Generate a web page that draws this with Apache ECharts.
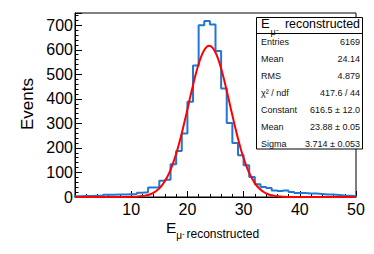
<!DOCTYPE html>
<html>
<head>
<meta charset="utf-8">
<script src="https://cdn.jsdelivr.net/npm/echarts@6/dist/echarts.min.js"></script>
<style>
html,body{margin:0;padding:0;background:#fff;}
#c{width:374px;height:254px;}
</style>
</head>
<body>
<div id="c"></div>
<script>
// Histogram bins (lower edges, width 1) and counts
const binEdges = [0,1,2,3,4,5,6,7,8,9,10,11,12,13,14,15,16,17,18,19,20,21,22,23,24,25,26,27,28,29,30,31,32,33,34,35,36,37,38,39,40,41,42,43,44,45,46,47,48,49];
const binCounts = [3,4,4,5,5, 9,9,10,10,11,12, 17,19, 39,40, 66,70,
  133,187,259,388,536,700,717,703,595,442,
  302,220,170,129,82,52,41,37,27,24,
  27,20,16,16,14,14,12,10,10,8,
  6,5,4];
// Fit curve (x, y)
const fitX = [0,5,9,10,11,12,12.5,13,13.5,14,14.5,15,15.5,16,16.5,17,17.5,18,18.5,19,19.5,20,20.5,21,21.5,22,22.5,23,23.5,23.88,24.5,25,25.5,26,26.5,27,27.5,28,28.5,29,29.5,30,30.5,31,31.5,32,32.5,33,33.5,34,34.5,35,35.5,36,37,38,40,50];
const fitY = [0,0,0.2,0.6,1.5,3.7,5.6,8.4,12.4,17.9,25.4,35.4,48.4,64.9,85.6,110.8,141,176,216,260,308,357,408,456,502,542,575,599,613,616.5,608,589,561,524,481,433,383,333,284,238,196,159,126,98,75,56.5,41.7,30.2,21.5,15.1,10.3,7,4.6,3,1.2,0.4,0,0];
// Axis ticks
const xTickLabels = ['10','20','30','40','50'];
const yTickLabels = ['0','100','200','300','400','500','600','700'];
// Stats box
const statNames = ['Entries','Mean','RMS','\u03c7\u00b2 / ndf','Constant','Mean','Sigma'];
const statValues = ['6169','24.14','4.879','417.6 / 44','616.5 \u00b1 12.0','23.88 \u00b1 0.05','3.714 \u00b1 0.053'];

const FF = '"Liberation Sans", Arial, Helvetica, sans-serif';
const histPts = [[0,0]];
binEdges.forEach((e,i)=>histPts.push([e, binCounts[i]]));
histPts.push([50, binCounts[binCounts.length-1]]);
histPts.push([50, 0]);
const fitPts = fitX.map((x,i)=>[x, fitY[i]]);

const chart = echarts.init(document.getElementById('c'), null, {renderer:'svg'});

const rowY = [42.3,59.4,76.2,93,110.4,127.4,144.3];
const graphics = [
  {type:'rect', shape:{x:256.5,y:17.5,width:106,height:131.5}, style:{fill:'#fff', stroke:'#000', lineWidth:1}, z:100},
  {type:'line', shape:{x1:256.5,y1:33.5,x2:362.5,y2:33.5}, style:{stroke:'#000', lineWidth:1}, z:101},
  {type:'text', z:102, style:{text:'E', x:261, y:23.3, font:'13px '+FF, fill:'#000', textAlign:'left', verticalAlign:'middle'}},
  {type:'text', z:102, style:{text:'\u03bc', x:270.5, y:31.5, font:'9px '+FF, fill:'#000', textAlign:'left', verticalAlign:'middle'}},
  {type:'text', z:102, style:{text:'-', x:276, y:29.5, font:'8px '+FF, fill:'#000', textAlign:'left', verticalAlign:'middle'}},
  {type:'text', z:102, style:{text:'reconstructed', x:360, y:24, font:'12.4px '+FF, fill:'#000', textAlign:'right', verticalAlign:'middle'}},
  // x-axis title
  {type:'text', style:{text:'E', x:166, y:227.2, font:'15.5px '+FF, fill:'#000', textAlign:'left', verticalAlign:'middle'}},
  {type:'text', style:{text:'\u03bc', x:176.3, y:235, font:'10px '+FF, fill:'#000', textAlign:'left', verticalAlign:'middle'}},
  {type:'text', style:{text:'-', x:182, y:233.5, font:'8px '+FF, fill:'#000', textAlign:'left', verticalAlign:'middle'}},
  {type:'text', style:{text:'reconstructed', x:186.5, y:234.3, font:'12px '+FF, fill:'#000', textAlign:'left', verticalAlign:'middle'}},
  // y-axis title
  {type:'text', x:27, y:104, rotation:Math.PI/2, style:{text:'Events', x:0, y:0, font:'17px '+FF, fill:'#000', textAlign:'center', verticalAlign:'middle'}}
];
statNames.forEach((n,i)=>{
  graphics.push({type:'text', z:102, style:{text:n, x:261, y:rowY[i], font:'9px '+FF, fill:'#111', textAlign:'left', verticalAlign:'middle'}});
  graphics.push({type:'text', z:102, style:{text:statValues[i], x:360, y:rowY[i], font:'9px '+FF, fill:'#111', textAlign:'right', verticalAlign:'middle'}});
});

chart.setOption({
  animation:false,
  backgroundColor:'#fff',
  grid:{left:75, right:18, top:13, bottom:57, show:true, borderColor:'#000', borderWidth:1, backgroundColor:'transparent'},
  xAxis:{
    type:'value', min:0, max:50, interval:10,
    axisLine:{show:true, lineStyle:{color:'#000', width:1}},
    axisTick:{show:true, inside:true, length:6, lineStyle:{color:'#000'}},
    minorTick:{show:true, splitNumber:5, length:3, lineStyle:{color:'#000'}},
    splitLine:{show:false},
    axisLabel:{color:'#000', fontSize:16, fontFamily:FF, margin:4,
      formatter:(v)=>{const s=String(v); return xTickLabels.indexOf(s)>=0?s:'';}}
  },
  yAxis:{
    type:'value', min:0, max:750, interval:100,
    axisLine:{show:true, lineStyle:{color:'#000', width:1}},
    axisTick:{show:true, inside:true, length:7, lineStyle:{color:'#000'}},
    minorTick:{show:true, splitNumber:5, length:3.5, lineStyle:{color:'#000'}},
    splitLine:{show:false},
    axisLabel:{color:'#000', fontSize:16, fontFamily:FF, margin:2, showMaxLabel:false,
      formatter:(v)=>{const s=String(v); return yTickLabels.indexOf(s)>=0?s:'';}}
  },
  series:[
    {type:'line', data:histPts, step:'end', symbol:'none', lineStyle:{color:'#1f78d4', width:2}, z:2},
    {type:'line', data:fitPts, smooth:0.3, symbol:'none', lineStyle:{color:'#ff0000', width:2}, z:3}
  ],
  graphic:graphics
});
</script>
</body>
</html>
